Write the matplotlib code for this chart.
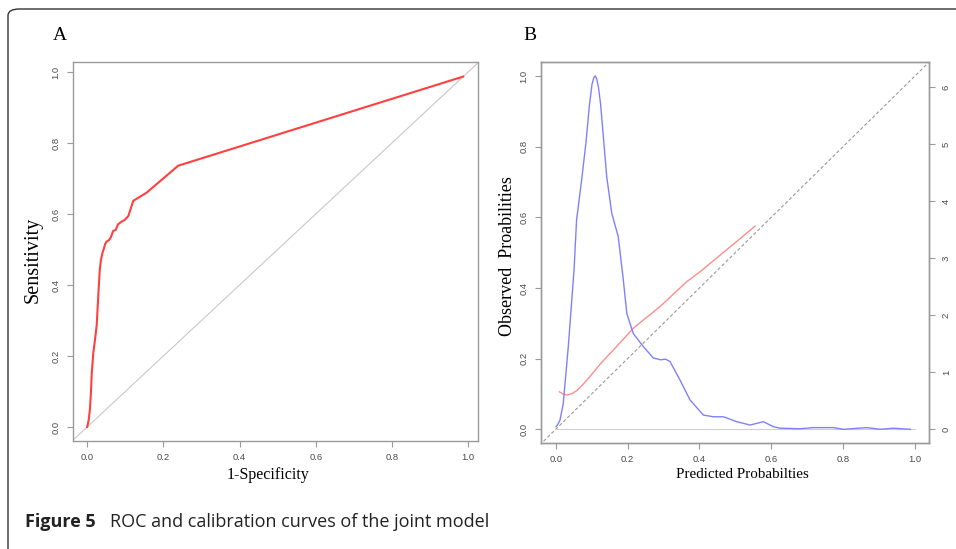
import numpy as np
import matplotlib
matplotlib.use("Agg")
import matplotlib.pyplot as plt
from matplotlib.patches import FancyBboxPatch

# ROC curve (panel A)
fpr = [0.0, 0.004, 0.007, 0.010, 0.012, 0.016, 0.021, 0.025, 0.029, 0.033, 0.036,
       0.040, 0.044, 0.047, 0.051, 0.058, 0.062, 0.068, 0.075, 0.081, 0.090, 0.098,
       0.108, 0.121, 0.156, 0.239, 0.987]
tpr = [0.0, 0.020, 0.048, 0.100, 0.151, 0.208, 0.250, 0.287, 0.367, 0.442, 0.470,
       0.490, 0.503, 0.515, 0.522, 0.527, 0.534, 0.552, 0.555, 0.571, 0.578, 0.583,
       0.594, 0.637, 0.660, 0.736, 0.987]

# calibration curve (panel B)
pred = [0.010, 0.020, 0.031, 0.045, 0.058, 0.075, 0.095, 0.125, 0.160, 0.216,
        0.290, 0.365, 0.402, 0.555]
obs = [0.106, 0.100, 0.097, 0.101, 0.109, 0.126, 0.149, 0.186, 0.224, 0.286,
       0.347, 0.418, 0.446, 0.575]

# density of predicted probabilities (right axis)
dens_x = [0.001, 0.006, 0.012, 0.021, 0.035, 0.051, 0.058, 0.072, 0.084, 0.094,
          0.101, 0.106, 0.110, 0.114, 0.119, 0.125, 0.142, 0.156, 0.174, 0.188,
          0.198, 0.216, 0.244, 0.272, 0.292, 0.306, 0.318, 0.346, 0.374, 0.411,
          0.439, 0.467, 0.504, 0.541, 0.578, 0.606, 0.624, 0.680, 0.717, 0.773,
          0.801, 0.866, 0.903, 0.940, 0.987]
dens_y = [0.046, 0.090, 0.163, 0.456, 1.45, 2.80, 3.67, 4.37, 5.02, 5.70,
          6.05, 6.17, 6.20, 6.15, 6.00, 5.70, 4.43, 3.79, 3.38, 2.63,
          2.03, 1.68, 1.45, 1.25, 1.22, 1.23, 1.19, 0.865, 0.514, 0.25,
          0.22, 0.22, 0.134, 0.075, 0.134, 0.046, 0.02, 0.01, 0.03, 0.03,
          0.0, 0.03, 0.0, 0.02, 0.0]

ticks = [0.0, 0.2, 0.4, 0.6, 0.8, 1.0]
right_ticks = [0, 1, 2, 3, 4, 5, 6]

W, H = 956, 549
fig = plt.figure(figsize=(W / 100, H / 100), dpi=100)

serif = "Liberation Serif"
tick_family = "Liberation Sans"
tick_size = 6.8
frame_col = "#9a9a9a"
tick_col = "#4a4a4a"

# rounded frame of the figure panel
box = FancyBboxPatch((8 / W, -20 / H), 1.05, (H - 9 + 20) / H,
                     boxstyle="round,pad=0,rounding_size=0.012",
                     transform=fig.transFigure, fill=False,
                     edgecolor="#333333", linewidth=1.0)
fig.patches.append(box)


def style_axes(ax):
    for s in ax.spines.values():
        s.set_color(frame_col)
        s.set_linewidth(1.0)
    ax.tick_params(direction="out", length=4, width=0.8, color=frame_col,
                   labelcolor=tick_col, pad=5)
    for lab in ax.get_xticklabels() + ax.get_yticklabels():
        lab.set_fontfamily(tick_family)
        lab.set_fontsize(tick_size)


def px(x0, y0, x1, y1):
    return [x0 / W, 1 - y1 / H, (x1 - x0) / W, (y1 - y0) / H]


# panel A
axA = fig.add_axes(px(72.7, 62, 477.7, 440.7))
axA.set_xlim(-0.038, 1.025)
axA.set_ylim(-0.0386, 1.028)
axA.plot([-0.1, 1.1], [-0.1, 1.1], color="#c8c8c8", lw=0.8)
axA.plot(fpr, tpr, color="#ff4040", lw=1.5)
axA.set_xticks(ticks)
axA.set_yticks(ticks)
axA.set_xticklabels([f"{t:.1f}" for t in ticks])
axA.set_yticklabels([f"{t:.1f}" for t in ticks], rotation=90, va="center")
style_axes(axA)

# panel B
axB = fig.add_axes(px(541, 62, 929.3, 443))
axB.set_xlim(-0.041, 1.04)
axB.set_ylim(-0.0388, 1.0396)
axB.plot([-0.1, 1.1], [-0.1, 1.1], color="#999999", lw=0.8, ls=(0, (3, 2)))
axB.plot([0, 1], [0, 0], color="#d0d0d0", lw=0.8)
axB.plot(pred, obs, color="#ff8c8c", lw=1.0)
axB.set_xticks(ticks)
axB.set_yticks(ticks)
axB.set_xticklabels([f"{t:.1f}" for t in ticks])
axB.set_yticklabels([f"{t:.1f}" for t in ticks], rotation=90, va="center")
style_axes(axB)

axR = axB.twinx()
axR.set_ylim(-0.24, 6.444)
axR.plot(dens_x, dens_y, color="#8080ff", lw=1.0)
axR.set_yticks(right_ticks)
axR.set_yticklabels([str(t) for t in right_ticks], rotation=90, va="center")
style_axes(axR)

# panel letters and axis titles
fig.text(60 / W, 1 - 36 / H, "A", family=serif, fontsize=14, ha="center", va="center")
fig.text(530 / W, 1 - 36 / H, "B", family=serif, fontsize=14, ha="center", va="center")
fig.text(33 / W, 1 - 260 / H, "Sensitivity", family=serif, fontsize=14.5,
         rotation=90, ha="center", va="center")
fig.text(268 / W, 1 - 475 / H, "1-Specificity", family=serif, fontsize=11.5,
         ha="center", va="center")
fig.text(508 / W, 1 - 256 / H, "Observed  Proabilities", family=serif, fontsize=13,
         rotation=90, ha="center", va="center")
fig.text(742 / W, 1 - 475 / H, "Predicted Probabilties", family=serif, fontsize=10.8,
         ha="center", va="center")

# caption
fig.text(25 / W, 1 - 527 / H, "Figure 5", family="Open Sans", weight="bold",
         fontsize=13, ha="left", va="baseline", color="#222222")
fig.text(110 / W, 1 - 527 / H, "ROC and calibration curves of the joint model",
         family="Open Sans", fontsize=13, ha="left", va="baseline", color="#222222")

fig.savefig("out.png", dpi=100)
